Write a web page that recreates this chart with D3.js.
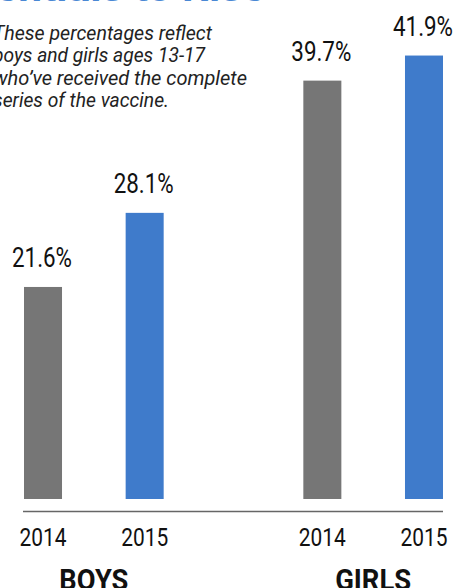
<!DOCTYPE html>
<html>
<head>
<meta charset="utf-8">
<script src="https://cdn.jsdelivr.net/npm/d3@7"></script>
<style>
  body { margin: 0; background: #fff; }
  svg { display: block; }
  text { font-family: Roboto, "Liberation Sans", sans-serif; fill: #111; }
</style>
</head>
<body>
<svg id="chart" width="454" height="588"></svg>
<script>
// data
var groups = ["BOYS", "GIRLS"];
var years = ["2014", "2015"];
var boysValues = [21.6, 28.1];
var girlsValues = [39.7, 41.9];
var yearColors = ["#767676", "#3f7bcb"];
var noteLines = [
    "These percentages reflect",
    "boys and girls ages 13-17",
    "who\u2019ve received the complete",
    "series of the vaccine."
];
var noteWidths = [219, 212, 254, 176];

var rows = [];
groups.forEach(function (g, gi) {
    var vals = gi === 0 ? boysValues : girlsValues;
    years.forEach(function (yr, yi) {
        rows.push({ key: g + yr, group: g, year: yr, yi: yi, value: vals[yi] });
    });
});

var svg = d3.select("#chart");
var baseline = 499;

// outer band per group, inner band per year
var x0 = d3.scaleBand().domain(groups).range([24, 443]).paddingInner(0.5);
var x1 = d3.scaleBand().domain(years).range([0, x0.bandwidth()]).paddingInner(0.626);

var y = d3.scaleLinear().domain([3, 42]).range([baseline, 54.4]);

// title, mostly cut off by the top edge
svg.append("text")
    .attr("x", -70)
    .attr("y", 1)
    .attr("font-size", 38)
    .attr("font-weight", "bold")
    .attr("textLength", 335)
    .attr("lengthAdjust", "spacingAndGlyphs")
    .style("fill", "#4a88d4")
    .text("Potentials to Rise");

// italic note
svg.append("g").selectAll("text")
    .data(noteLines)
    .enter()
    .append("text")
    .attr("x", -7)
    .attr("y", function (d, i) { return 40 + i * 22.4; })
    .attr("font-size", 21)
    .attr("font-style", "italic")
    .attr("textLength", function (d, i) { return noteWidths[i]; })
    .attr("lengthAdjust", "spacingAndGlyphs")
    .style("fill", "#222")
    .text(function (d) { return d; });

var bars = svg.append("g");

bars.selectAll("rect")
    .data(rows)
    .enter()
    .append("rect")
    .attr("x", function (d) { return x0(d.group) + x1(d.year); })
    .attr("y", function (d) { return y(d.value); })
    .attr("width", x1.bandwidth())
    .attr("height", function (d) { return baseline - y(d.value); })
    .attr("fill", function (d) { return yearColors[d.yi]; });

bars.selectAll(".val")
    .data(rows)
    .enter()
    .append("text")
    .attr("class", "val")
    .attr("x", function (d) { return x0(d.group) + x1(d.year) + x1.bandwidth() / 2 - 1; })
    .attr("y", function (d) { return y(d.value) - 20; })
    .attr("text-anchor", "middle")
    .attr("font-size", 28.5)
    .attr("textLength", 60)
    .attr("lengthAdjust", "spacingAndGlyphs")
    .text(function (d) { return d.value.toFixed(1) + "%"; });

// baseline rule
svg.append("line")
    .attr("x1", 23)
    .attr("x2", 443)
    .attr("y1", 511.5)
    .attr("y2", 511.5)
    .attr("stroke", "#666")
    .attr("stroke-width", 1.6);

// year labels
svg.append("g").selectAll("text")
    .data(rows)
    .enter()
    .append("text")
    .attr("x", function (d) { return x0(d.group) + x1(d.year) + x1.bandwidth() / 2; })
    .attr("y", 546)
    .attr("text-anchor", "middle")
    .attr("font-size", 26.5)
    .attr("textLength", 47)
    .attr("lengthAdjust", "spacingAndGlyphs")
    .text(function (d) { return d.year; });

// group labels
svg.append("g").selectAll("text")
    .data(groups)
    .enter()
    .append("text")
    .attr("x", function (d) { return x0(d) + x0.bandwidth() / 2; })
    .attr("y", 590)
    .attr("text-anchor", "middle")
    .attr("font-size", 29)
    .attr("font-weight", "bold")
    .attr("font-family", "'Liberation Sans', Arial, sans-serif")
    .attr("textLength", function (d) { return d === "BOYS" ? 69 : 76; })
    .attr("lengthAdjust", "spacingAndGlyphs")
    .text(function (d) { return d; });
</script>
</body>
</html>
